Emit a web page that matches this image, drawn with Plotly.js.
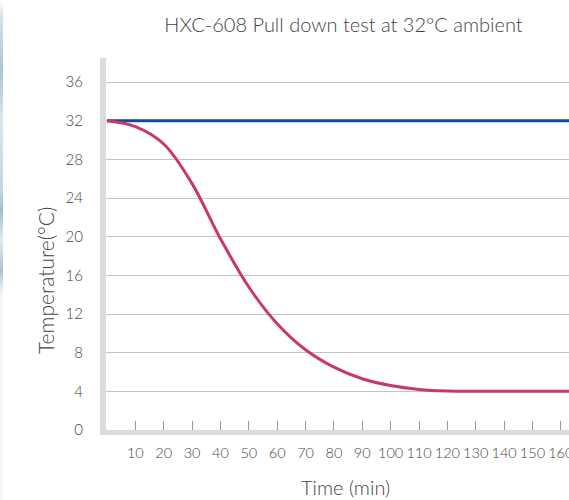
<!DOCTYPE html>
<html>
<head>
<meta charset="utf-8">
<script src="https://cdn.plot.ly/plotly-3.0.1.min.js"></script>
<style>
  html, body { margin: 0; padding: 0; overflow: hidden; background: #ffffff; }
  #chart { width: 600px; height: 500px; }
  #strip { position: absolute; left: 0; top: 0; width: 3px; height: 500px;
    background: linear-gradient(to bottom, #ffffff 0px, #d7e4ea 15px, #a9c6d4 70px, #d9e6ec 120px, #c0d6df 190px, #9fc0cc 210px, #e2eaee 240px, #a8c3cf 270px, #e9f0f2 290px, #f3f7f6 300px, #f3f7f6 500px); }
</style>
</head>
<body>
<div id="strip"></div>
<div id="chart"></div>
<script>
// Data
var timeMin = [0, 10, 20, 30, 40, 50, 60, 70, 80, 90, 100, 110, 120, 130, 145, 165];
var pullDownTemp = [32, 31.4, 29.6, 25.5, 19.8, 14.8, 11.0, 8.3, 6.5, 5.3, 4.6, 4.2, 4.03, 4.0, 4.0, 4.0];
var ambientTime = [0, 165];
var ambientTemp = [32, 32];
var xTickVals = [10, 20, 30, 40, 50, 60, 70, 80, 90, 100, 110, 120, 130, 140, 150, 160];
var yTickVals = [0, 4, 8, 12, 16, 20, 24, 28, 32, 36];
var titleText = "HXC-608 Pull down test at 32°C ambient";
var xTitle = "Time (min)";
var yTitle = "Temperature(°C)";

var font = "Lato, 'Open Sans', sans-serif";

var traces = [
  {
    x: ambientTime, y: ambientTemp, mode: "lines", type: "scatter",
    line: { color: "#0b4c9c", width: 3 }, hoverinfo: "skip"
  },
  {
    x: timeMin, y: pullDownTemp, mode: "lines", type: "scatter",
    line: { color: "#c9386a", width: 3, shape: "spline", smoothing: 1 }, hoverinfo: "skip"
  }
];

var layout = {
  width: 600, height: 500,
  margin: { l: 106, r: 25, t: 58, b: 70 },
  paper_bgcolor: "rgba(0,0,0,0)",
  plot_bgcolor: "#ffffff",
  showlegend: false,
  font: { family: font, color: "#555555", size: 14, weight: 300 },
  title: {
    text: titleText,
    font: { family: font, size: 20, color: "#444444", weight: 300 },
    x: 343.5 / 600, xref: "container", xanchor: "center",
    y: 1 - 25 / 500, yref: "container", yanchor: "middle"
  },
  xaxis: {
    range: [-0.35, 165],
    tickvals: xTickVals,
    tickangle: 0,
    ticks: "inside", ticklen: 9, tickcolor: "#9a9a9a", tickwidth: 1,
    showgrid: false, zeroline: false,
    showline: true, linecolor: "#dcdcdc", linewidth: 5,
    tickfont: { family: font, size: 14.5, color: "#444444", weight: 300 },
    ticklabelstandoff: 6
  },
  yaxis: {
    range: [0, 38.5],
    tickvals: yTickVals,
    ticks: "",
    showgrid: true, gridcolor: "#c4c4c4", gridwidth: 1,
    zeroline: false,
    showline: true, linecolor: "#dcdcdc", linewidth: 6,
    tickfont: { family: font, size: 15, color: "#444444", weight: 300 },
    ticklabelstandoff: 14
  },
  annotations: [
    {
      text: yTitle, xref: "paper", yref: "paper",
      x: (45 - 106) / 469, y: (430 - 281) / 372,
      xanchor: "center", yanchor: "middle", textangle: -90, showarrow: false,
      font: { family: font, size: 21, color: "#444444", weight: 300 }
    },
    {
      text: xTitle, xref: "paper", yref: "paper",
      x: (345 - 106) / 469, y: (430 - 487) / 372,
      xanchor: "center", yanchor: "middle", showarrow: false,
      font: { family: font, size: 20, color: "#444444", weight: 300 }
    }
  ]
};

Plotly.newPlot("chart", traces, layout, { displayModeBar: false, staticPlot: true });
</script>
</body>
</html>
